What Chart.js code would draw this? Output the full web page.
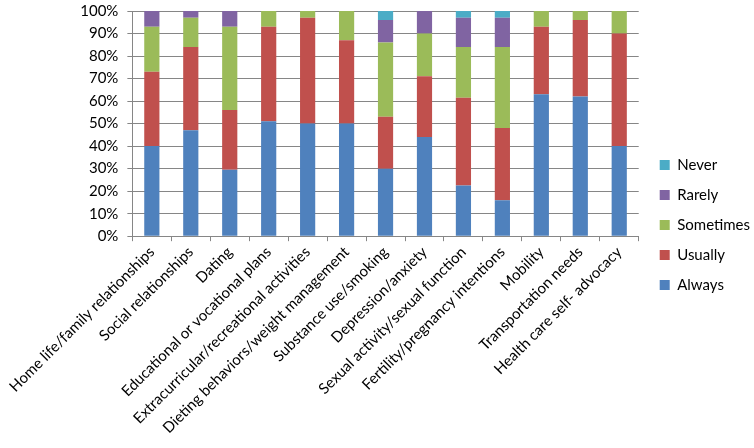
<!DOCTYPE html>
<html>
<head>
<meta charset="utf-8">
<script src="https://cdn.jsdelivr.net/npm/chart.js@4"></script>
<style>
  body { margin: 0; background: #fff; }
  #wrap { width: 754px; height: 448px; }
</style>
</head>
<body>
<div id="wrap"><canvas id="chart" width="754" height="448"></canvas></div>
<script>
const categories = [
  'Home life/family relationships', 'Social relationships', 'Dating',
  'Educational or vocational plans', 'Extracurricular/recreational activities',
  'Dieting behaviors/weight management', 'Substance use/smoking', 'Depression/anxiety',
  'Sexual activity/sexual function', 'Fertility/pregnancy intentions', 'Mobility',
  'Transportation needs', 'Health care self- advocacy'
];

// percent of respondents, each bar sums to 100
const always    = [40, 47, 29.5, 51, 50, 50, 30, 44, 22.5, 16, 63, 62, 40];
const usually   = [33, 37, 26.5, 42, 47, 37, 23, 27, 39, 32, 30, 34, 50];
const sometimes = [20, 13, 37, 7, 3, 13, 33, 19, 22.5, 36, 7, 4, 10];
const rarely    = [7, 3, 7, 0, 0, 0, 10, 10, 13, 13, 0, 0, 0];
const never     = [0, 0, 0, 0, 0, 0, 4, 0, 3, 3, 0, 0, 0];

const yTicks = [0, 10, 20, 30, 40, 50, 60, 70, 80, 90, 100];

const colors = {
  always: '#4F81BD',
  usually: '#C0504D',
  sometimes: '#9BBB59',
  rarely: '#8064A2',
  never: '#4BACC6'
};

const FONT = 'Lato, "Open Sans", sans-serif';
const LEGEND_SHIFT = 6;
const LEGEND_DROP = 4;

function ds(label, data, color) {
  return {
    label,
    data,
    backgroundColor: color,
    borderWidth: 0,
    barPercentage: 0.39,
    categoryPercentage: 1.0
  };
}

// leave a wider gap between plot and legend, legend itself stays at the right edge
const legendGap = {
  id: 'legendGap',
  beforeLayout(chart) {
    const lg = chart.legend;
    if (!lg || lg._gapPatched) return;
    const fit = lg.fit.bind(lg);
    lg.fit = function () { fit(); this.width += LEGEND_SHIFT; };
    lg._gapPatched = true;
  },
  afterLayout(chart) {
    const lg = chart.legend;
    if (!lg) return;
    lg.left += LEGEND_SHIFT;
    lg.top += LEGEND_DROP;
    lg.bottom += LEGEND_DROP;
  }
};

new Chart(document.getElementById('chart'), {
  type: 'bar',
  data: {
    labels: categories,
    datasets: [
      ds('Always', always, colors.always),
      ds('Usually', usually, colors.usually),
      ds('Sometimes', sometimes, colors.sometimes),
      ds('Rarely', rarely, colors.rarely),
      ds('Never', never, colors.never)
    ]
  },
  plugins: [legendGap],
  options: {
    responsive: false,
    animation: false,
    layout: { padding: { top: 3, right: -6, left: 0, bottom: 9 } },
    plugins: {
      tooltip: { enabled: false },
      legend: {
        position: 'right',
        align: 'center',
        reverse: true,
        labels: {
          boxWidth: 10,
          boxHeight: 10,
          padding: 15,
          color: '#000',
          font: { family: FONT, size: 15 }
        }
      }
    },
    scales: {
      x: {
        stacked: true,
        afterFit: axis => { axis.paddingLeft += 8; },
        grid: {
          offset: true,
          drawOnChartArea: false,
          drawTicks: true,
          tickLength: 5,
          color: '#868686'
        },
        border: { color: '#868686' },
        ticks: {
          autoSkip: false,
          minRotation: 45,
          maxRotation: 45,
          color: '#000',
          padding: 2,
          font: { family: FONT, size: 15 }
        }
      },
      y: {
        stacked: true,
        min: 0,
        max: 100,
        afterBuildTicks: axis => { axis.ticks = yTicks.map(v => ({ value: v })); },
        afterFit: axis => { axis.paddingTop = 11; },
        grid: { color: '#868686', tickLength: 5 },
        border: { color: '#868686' },
        ticks: {
          autoSkip: false,
          color: '#000',
          padding: 9,
          font: { family: FONT, size: 15 },
          callback: v => v + '%'
        }
      }
    }
  }
});
</script>
</body>
</html>
